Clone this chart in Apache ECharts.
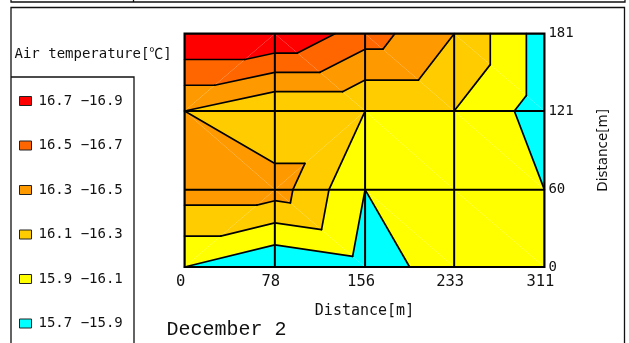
<!DOCTYPE html>
<html>
<head>
<meta charset="utf-8">
<script src="https://cdn.jsdelivr.net/npm/echarts@6/dist/echarts.min.js"></script>
<style>html,body{margin:0;padding:0;background:#fff}#c{width:629px;height:343px}</style>
</head>
<body>
<div id="c"></div>
<script>
// ---- data ----
const xNodes = [0, 78, 156, 233, 311];          // distance [m] along x
const yNodes = [0, 60, 121, 181];               // distance [m] along y
const xTickLabels = ['0', '78', '156', '233', '311'];
const yTickLabels = ['0', '60', '121', '181'];
// air temperature [°C] at grid nodes, one row per y (bottom -> top)
const tempY0   = [15.9, 15.7, 15.82, 15.98, 16.0];
const tempY60  = [16.4, 16.4, 15.9, 16.0, 15.9];
const tempY121 = [16.3, 16.1, 16.1, 16.1, 15.8];
const tempY181 = [16.9, 16.9, 16.6, 16.3, 15.8];
// contour classes (legend order, top -> bottom)
const classNames  = ['16.7 \u221216.9', '16.5 \u221216.7', '16.3 \u221216.5', '16.1 \u221216.3', '15.9 \u221216.1', '15.7 \u221215.9'];
const classLow    = [16.7, 16.5, 16.3, 16.1, 15.9, 15.7];
const classHigh   = [16.9, 16.7, 16.5, 16.3, 16.1, 15.9];
const classColors = ['#FF0000', '#FF6600', '#FF9900', '#FFCC00', '#FFFF00', '#00FFFF'];
const contourLevels = [15.9, 16.1, 16.3, 16.5, 16.7];

// ---- triangulation of the grid ----
const tempRows = [tempY0, tempY60, tempY121, tempY181];
function node(i, j) { return [xNodes[i], yNodes[j], tempRows[j][i]]; }
const triangles = [];
for (let j = 0; j < yNodes.length - 1; j++) {
  for (let i = 0; i < xNodes.length - 1; i++) {
    const BL = node(i, j), BR = node(i + 1, j), TL = node(i, j + 1), TR = node(i + 1, j + 1);
    if (TL[2] + BR[2] >= TR[2] + BL[2]) { triangles.push([TL, BR, TR], [TL, BR, BL]); }
    else { triangles.push([TR, BL, TL], [TR, BL, BR]); }
  }
}
function lerp(a, b, t) { return [a[0] + (b[0] - a[0]) * t, a[1] + (b[1] - a[1]) * t, a[2] + (b[2] - a[2]) * t]; }
function clipPoly(poly, f) {
  const out = [];
  for (let k = 0; k < poly.length; k++) {
    const a = poly[k], b = poly[(k + 1) % poly.length];
    const fa = f(a), fb = f(b);
    if (fa >= 0) out.push(a);
    if ((fa >= 0) !== (fb >= 0)) out.push(lerp(a, b, fa / (fa - fb)));
  }
  return out;
}
function isoSeg(tri, L) {
  const pts = [];
  for (let k = 0; k < 3; k++) {
    const a = tri[k], b = tri[(k + 1) % 3];
    if (a[2] === L) pts.push(a);
    else if ((a[2] - L) * (b[2] - L) < 0) pts.push(lerp(a, b, (L - a[2]) / (b[2] - a[2])));
  }
  return pts.length === 2 ? pts : null;
}

const MONO = "'DejaVu Sans Mono', 'Noto Sans CJK JP', monospace";
const TXT = '#111';
const chart = echarts.init(document.getElementById('c'), null, { renderer: 'canvas' });

const bandSeries = classNames.map((name, k) => ({
  type: 'custom', name: name, coordinateSystem: 'cartesian2d', data: [[0, 0]], silent: true, z: 2,
  itemStyle: { color: classColors[k] },
  renderItem: function (params, api) {
    const lo = (k === classNames.length - 1) ? -Infinity : classLow[k];
    const hi = (k === 0) ? Infinity : classHigh[k];
    const children = [];
    triangles.forEach(tri => {
      let p = clipPoly(tri, q => q[2] - lo);
      p = clipPoly(p, q => hi - q[2]);
      if (p.length >= 3) {
        children.push({ type: 'polygon', shape: { points: p.map(q => api.coord([q[0], q[1]])) }, style: { fill: classColors[k] } });
      }
    });
    return { type: 'group', children: children };
  }
}));

const lineSeries = {
  type: 'custom', name: 'lines', coordinateSystem: 'cartesian2d', data: [[0, 0]], silent: true, z: 3,
  renderItem: function (params, api) {
    const children = [];
    const ls = { stroke: '#000', lineWidth: 1.7, lineCap: 'round' };
    contourLevels.forEach(L => triangles.forEach(tri => {
      const s = isoSeg(tri, L);
      if (s) {
        const a = api.coord([s[0][0], s[0][1]]), b = api.coord([s[1][0], s[1][1]]);
        children.push({ type: 'line', shape: { x1: a[0], y1: a[1], x2: b[0], y2: b[1] }, style: ls });
      }
    }));
    const gs = { stroke: '#000', lineWidth: 2 };
    xNodes.slice(1, -1).forEach(x => {
      const a = api.coord([x, yNodes[0]]), b = api.coord([x, yNodes[yNodes.length - 1]]);
      children.push({ type: 'line', shape: { x1: a[0], y1: a[1], x2: b[0], y2: b[1] }, style: gs });
    });
    yNodes.slice(1, -1).forEach(y => {
      const a = api.coord([xNodes[0], y]), b = api.coord([xNodes[xNodes.length - 1], y]);
      children.push({ type: 'line', shape: { x1: a[0], y1: a[1], x2: b[0], y2: b[1] }, style: gs });
    });
    const p0 = api.coord([xNodes[0], yNodes[yNodes.length - 1]]);
    const p1 = api.coord([xNodes[xNodes.length - 1], yNodes[0]]);
    children.push({ type: 'rect', shape: { x: p0[0], y: p0[1], width: p1[0] - p0[0], height: p1[1] - p0[1] },
      style: { fill: 'none', stroke: '#000', lineWidth: 2.2 } });
    return { type: 'group', children: children };
  }
};

const frameStyle = { stroke: '#111', lineWidth: 1.3, fill: 'none' };
chart.setOption({
  animation: false,
  backgroundColor: '#fff',
  grid: { left: 184.6, top: 33.7, width: 359.8, height: 233.3, containLabel: false, outerBoundsMode: 'none' },
  xAxis: {
    type: 'value', min: 0, max: 311,
    axisLine: { show: false }, axisTick: { show: false }, splitLine: { show: false },
    axisLabel: {
      customValues: xNodes, formatter: v => xTickLabels[xNodes.indexOf(v)],
      fontFamily: MONO, fontSize: 15.5, color: TXT, margin: 7, padding: [0, 8, 0, 0]
    },
    name: 'Distance[m]', nameLocation: 'middle', nameGap: 37,
    nameTextStyle: { fontFamily: MONO, fontSize: 15, color: TXT }
  },
  yAxis: {
    type: 'value', position: 'right', min: 0, max: 181,
    axisLine: { show: false }, axisTick: { show: false }, splitLine: { show: false },
    axisLabel: {
      customValues: yNodes, formatter: v => yTickLabels[yNodes.indexOf(v)],
      fontFamily: MONO, fontSize: 14, color: TXT, margin: 4
    },
    name: 'Distance[m]', nameLocation: 'middle', nameGap: 52,
    nameTextStyle: { fontFamily: "'DejaVu Sans', sans-serif", fontSize: 13.5, color: TXT }
  },
  legend: {
    orient: 'vertical', left: 19, top: 94, padding: 0,
    itemWidth: 12, itemHeight: 9, itemGap: 30.5, icon: 'rect', selectedMode: false,
    itemStyle: { borderColor: '#222', borderWidth: 1 },
    textStyle: { fontFamily: MONO, fontSize: 14, color: TXT, lineHeight: 14, padding: [0, 0, 0, 2] },
    data: classNames
  },
  graphic: [
    { type: 'polyline', shape: { points: [[11, 0], [11, 2], [625, 2], [625, 0]] }, style: frameStyle, silent: true },
    { type: 'line', shape: { x1: 133.5, y1: 0, x2: 133.5, y2: 2 }, style: frameStyle, silent: true },
    { type: 'polyline', shape: { points: [[11, 350], [11, 7.5], [624.5, 7.5], [624.5, 350]] }, style: frameStyle, silent: true },
    { type: 'polyline', shape: { points: [[11, 77], [134, 77], [134, 350]] }, style: frameStyle, silent: true },
    { type: 'text', x: 14.5, y: 54, silent: true,
      style: { text: 'Air temperature[\u2103]', fontFamily: MONO, fontSize: 14, fill: TXT, verticalAlign: 'middle' } },
    { type: 'text', x: 166.5, y: 330, silent: true,
      style: { text: 'December 2', fontFamily: "'Liberation Mono', monospace", fontSize: 20, fill: TXT, verticalAlign: 'middle' } }
  ],
  series: bandSeries.concat([lineSeries])
});
</script>
</body>
</html>
